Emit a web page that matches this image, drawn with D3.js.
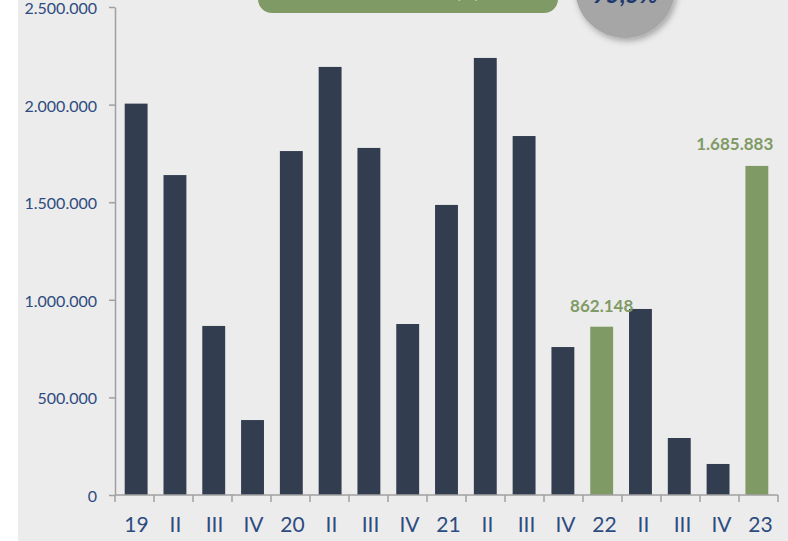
<!DOCTYPE html>
<html>
<head>
<meta charset="utf-8">
<script src="https://cdn.jsdelivr.net/npm/d3@7"></script>
<style>
  body { margin: 0; background: #fff; }
  svg { display: block; }
</style>
</head>
<body>
<svg width="788" height="541"></svg>
<script>
var categories = ["19", "II", "III", "IV", "20", "II", "III", "IV", "21", "II", "III", "IV", "22", "II", "III", "IV", "23"];
var values = [2005000, 1639000, 866000, 384000, 1762000, 2193000, 1778000, 876000, 1486000, 2239000, 1839000, 758000, 862148, 953000, 292000, 159000, 1685883];
var highlighted = [12, 16]; // full-year bars in green
var yTicks = [0, 500000, 1000000, 1500000, 2000000, 2500000];

var svg = d3.select("svg"),
    width = +svg.attr("width"),
    height = +svg.attr("height");

var navy = "#323d50",
    green = "#809a65",
    axisGray = "#a0a0a0",
    labelBlue = "#2d4b80";

var fmt = d3.formatLocale({ decimal: ",", thousands: ".", grouping: [3], currency: ["", "€"] }).format(",.0f");

// panel background
svg.append("rect")
    .attr("x", 18).attr("y", 0)
    .attr("width", width - 18).attr("height", height)
    .attr("fill", "#ececec");

var defs = svg.append("defs");
var shadow = defs.append("filter").attr("id", "shadow")
    .attr("x", "-30%").attr("y", "-30%").attr("width", "160%").attr("height", "160%");
shadow.append("feDropShadow")
    .attr("dx", 2).attr("dy", 3).attr("stdDeviation", 3)
    .attr("flood-color", "#000").attr("flood-opacity", 0.3);

// header pill (mostly cut off at top)
svg.append("rect")
    .attr("x", 258).attr("y", -40)
    .attr("width", 300).attr("height", 53)
    .attr("rx", 14)
    .attr("fill", green);
svg.append("text")
    .attr("x", 408).attr("y", -2)
    .attr("text-anchor", "middle")
    .attr("fill", "#fff")
    .style("font-family", "Lato, sans-serif")
    .style("font-size", "17px")
    .style("font-weight", "bold")
    .text("Variación anual (%)");

// gray circle badge
svg.append("circle")
    .attr("cx", 625).attr("cy", -12).attr("r", 50)
    .attr("fill", "#a6a6a6")
    .attr("filter", "url(#shadow)");
svg.append("text")
    .attr("x", 625).attr("y", 3)
    .attr("text-anchor", "middle")
    .attr("fill", "#1f3a6e")
    .style("font-family", "Lato, sans-serif")
    .style("font-size", "24px")
    .style("font-weight", "bold")
    .style("font-style", "italic")
    .text("95,5%");

var margin = { left: 115, right: 10, top: 7, bottom: 46 };

var x = d3.scaleBand()
    .domain(d3.range(categories.length))
    .range([margin.left, width - margin.right])
    .paddingInner(0.41)
    .paddingOuter(0.25);

var y = d3.scaleLinear()
    .domain([0, 2500000])
    .range([height - margin.bottom, margin.top]);

var g = svg.append("g");

// bars
g.selectAll(".bar")
    .data(values)
    .enter().append("rect")
    .attr("class", "bar")
    .attr("x", function (d, i) { return x(i); })
    .attr("y", function (d) { return y(d); })
    .attr("width", x.bandwidth())
    .attr("height", function (d) { return y(0) - y(d); })
    .attr("fill", function (d, i) { return highlighted.indexOf(i) >= 0 ? green : navy; });

// value labels for the green bars
var last = categories.length - 1;
g.selectAll(".vlabel")
    .data(highlighted)
    .enter().append("text")
    .attr("class", "vlabel")
    .attr("x", function (i) { return i === last ? x(i) + x.bandwidth() + 5 : x(i) + x.bandwidth() / 2; })
    .attr("y", function (i) { return y(values[i]) - (i === last ? 16 : 15); })
    .attr("text-anchor", function (i) { return i === last ? "end" : "middle"; })
    .attr("fill", green)
    .style("font-family", "Lato, sans-serif")
    .style("font-size", "17px")
    .style("font-weight", "bold")
    .text(function (i) { return fmt(values[i]); });

// y axis
var yAxis = g.append("g")
    .attr("transform", "translate(" + margin.left + ",0)")
    .call(d3.axisLeft(y).tickValues(yTicks).tickSize(6).tickSizeOuter(0).tickPadding(12).tickFormat(fmt));

// x axis with ticks at band boundaries
var x0 = margin.left;
var boundaries = d3.range(categories.length + 1).map(function (i) { return x0 + i * (width - margin.right - x0) / categories.length; });

var xAxis = g.append("g");
xAxis.append("line")
    .attr("x1", x0).attr("x2", width - margin.right)
    .attr("y1", y(0)).attr("y2", y(0))
    .attr("stroke", axisGray).attr("stroke-width", 1.5);
xAxis.selectAll(".xtick")
    .data(boundaries)
    .enter().append("line")
    .attr("class", "xtick")
    .attr("x1", function (d) { return d; }).attr("x2", function (d) { return d; })
    .attr("y1", y(0)).attr("y2", y(0) + 7)
    .attr("stroke", axisGray).attr("stroke-width", 1.5);
xAxis.selectAll(".xlabel")
    .data(categories)
    .enter().append("text")
    .attr("class", "xlabel")
    .attr("x", function (d, i) { return (boundaries[i] + boundaries[i + 1]) / 2 + 2; })
    .attr("y", y(0) + 37)
    .attr("text-anchor", "middle")
    .attr("fill", labelBlue)
    .style("font-family", "Lato, sans-serif")
    .style("font-size", "21px")
    .text(function (d) { return d; });

yAxis.select(".domain").attr("stroke", axisGray).attr("stroke-width", 1.5);
yAxis.selectAll(".tick line").attr("stroke", axisGray).attr("stroke-width", 1.5);
yAxis.selectAll(".tick text")
    .attr("fill", labelBlue)
    .attr("dy", "0.4em")
    .style("font-family", "Lato, sans-serif")
    .style("font-size", "16px");
</script>
</body>
</html>
